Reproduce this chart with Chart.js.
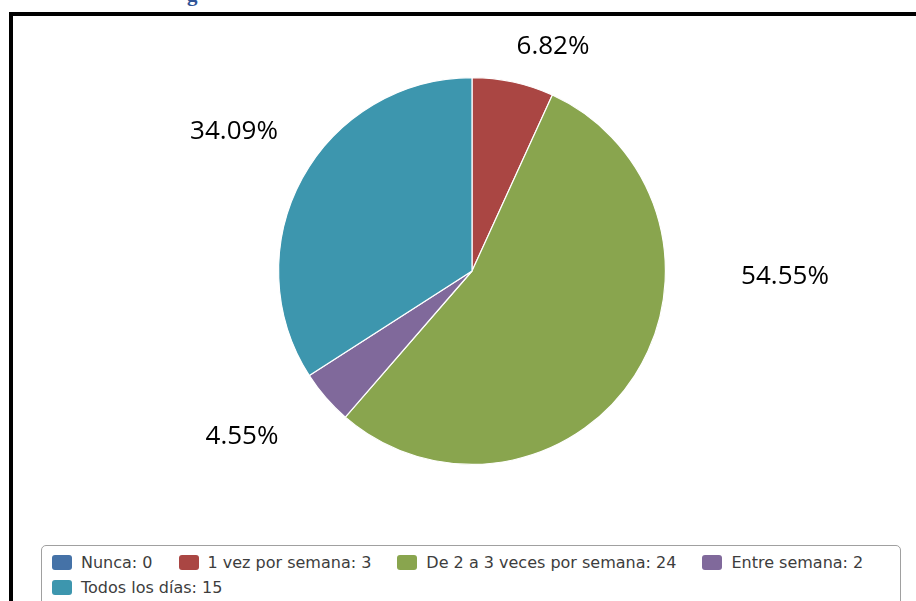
<!DOCTYPE html>
<html>
<head>
<meta charset="utf-8">
<script src="https://cdn.jsdelivr.net/npm/chart.js@4.4.1/dist/chart.umd.min.js"></script>
<style>
  html, body { margin: 0; padding: 0; background: #fff; overflow: hidden; }
  body { width: 916px; height: 601px; position: relative; }
  #heading {
    position: absolute; left: 187px; top: -18px;
    font: bold 21px "Liberation Serif", serif; color: #2f5496;
  }
  #frame {
    position: absolute; left: 9px; top: 12px; width: 920px; height: 600px;
    border-left: 4px solid #000; border-top: 4px solid #000;
  }
  #wrap { position: absolute; left: 0; top: 0; width: 916px; height: 601px; }
  #legend {
    position: absolute; left: 41px; top: 545px; width: 838px; height: 70px;
    border: 1px solid #a0a0a0; border-radius: 5px; background: #fff;
    padding: 4px 10px 0 10px;
    font: 16px "DejaVu Sans", sans-serif; color: #3d3d3d;
  }
  #legend .item {
    display: inline-flex; align-items: center; height: 25px;
    margin-right: 26px; white-space: nowrap; vertical-align: top;
  }
  #legend .box {
    display: inline-block; width: 20px; height: 15px; border-radius: 3px;
    margin-right: 9px;
  }
</style>
</head>
<body>
<div id="heading">g</div>
<div id="frame"></div>
<div id="wrap"><canvas id="graph" width="916" height="601"></canvas></div>
<div id="legend"></div>

<script>
const labels = ["Nunca", "1 vez por semana", "De 2 a 3 veces por semana", "Entre semana", "Todos los días"];
const values = [0, 3, 24, 2, 15];
const colors = ["#4572A7", "#AA4643", "#89A54E", "#80699B", "#3D96AE"];

// where each percentage sits, measured from the pie centre
const labelOffsets = [null, [81, -224], [313, 6], [-230, 166], [-238, -139]];

const total = values.reduce((a, b) => a + b, 0);

function Percent(v) {
    return (v / total * 100).toFixed(2) + "%";
}

const percentLabels = {
    id: 'percentLabels',
    afterDatasetsDraw(chart) {
        const ctx = chart.ctx;
        const arcs = chart.getDatasetMeta(0).data;
        ctx.save();
        ctx.font = '26px "Open Sans", sans-serif';
        ctx.fillStyle = '#000';
        ctx.textAlign = 'center';
        ctx.textBaseline = 'middle';
        arcs.forEach((arc, i) => {
            if (!values[i] || !labelOffsets[i]) return;
            ctx.fillText(Percent(values[i]), arc.x + labelOffsets[i][0], arc.y + labelOffsets[i][1]);
        });
        ctx.restore();
    }
};

function CreateChart() {
    const ctx = document.getElementById('graph').getContext('2d');
    new Chart(ctx, {
        type: 'pie',
        data: {
            labels: labels,
            datasets: [{
                data: values,
                backgroundColor: colors,
                borderColor: '#ffffff',
                borderWidth: 1.2
            }]
        },
        options: {
            responsive: false,
            animation: false,
            layout: { padding: { top: 77, bottom: 136, left: 278, right: 250 } },
            plugins: {
                legend: { display: false },
                tooltip: { enabled: false }
            }
        },
        plugins: [percentLabels]
    });
}

function CreateLegend() {
    const legend = document.getElementById('legend');
    labels.forEach((name, i) => {
        const item = document.createElement('span');
        item.className = 'item';
        const box = document.createElement('span');
        box.className = 'box';
        box.style.background = colors[i];
        item.appendChild(box);
        item.appendChild(document.createTextNode(name + ": " + values[i]));
        legend.appendChild(item);
    });
}

CreateLegend();
CreateChart();
</script>
</body>
</html>
